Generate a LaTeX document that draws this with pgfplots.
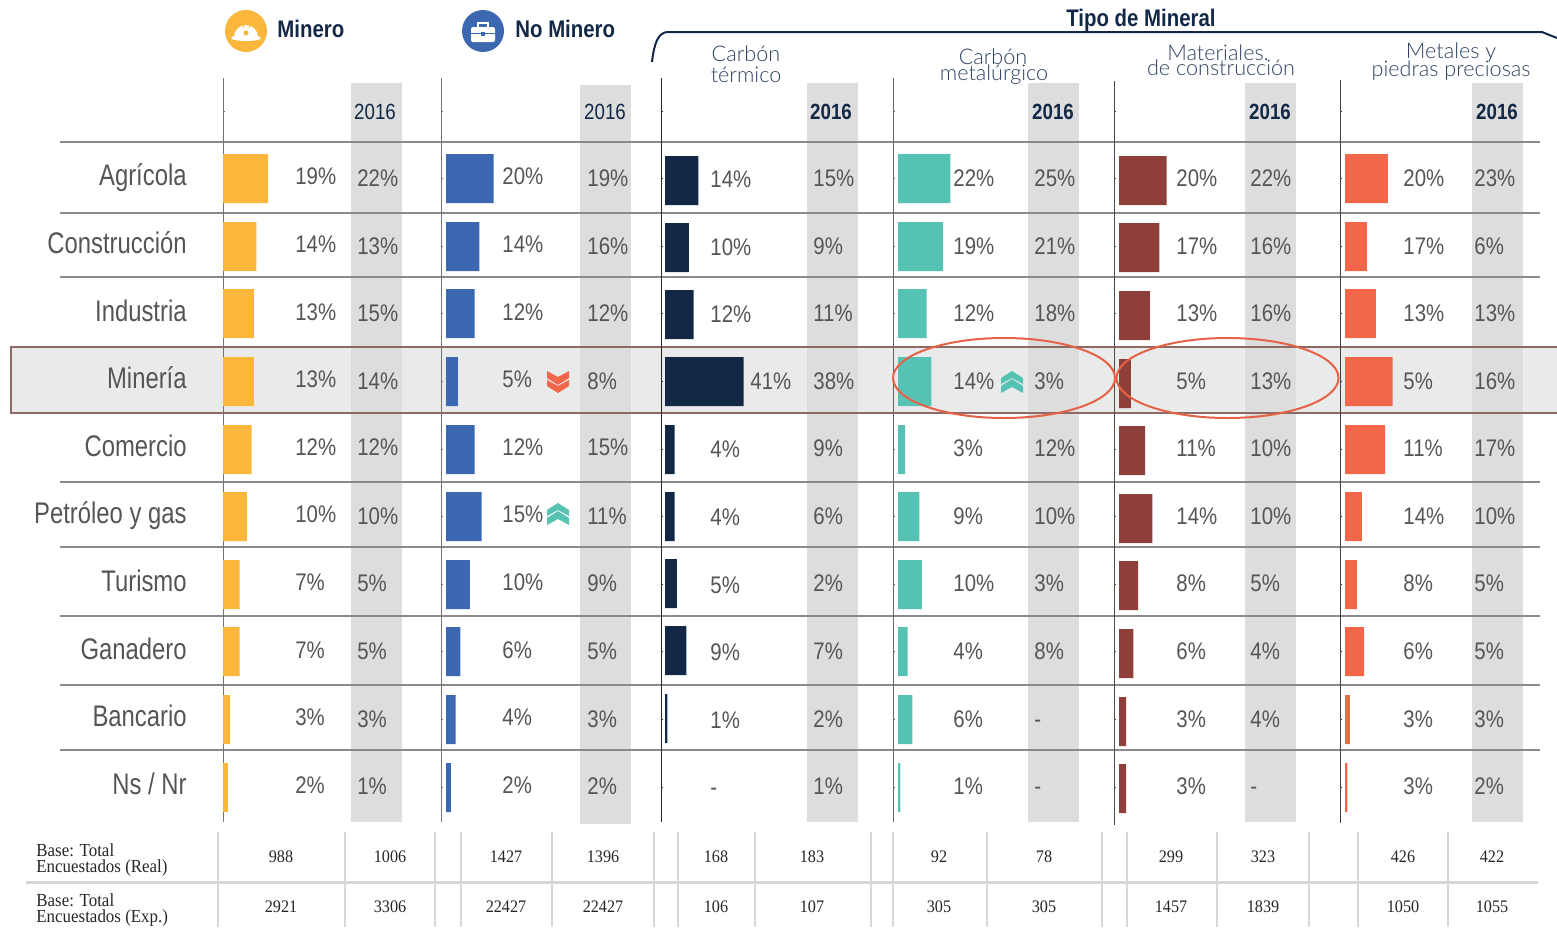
\documentclass[border=0pt]{standalone}
\usepackage{pgfplots}
\pgfplotsset{compat=1.18}
\usepackage{fontspec}
\setmainfont{Liberation Sans}
\newfontfamily\numf[FakeStretch=0.85]{Liberation Sans}
\newfontfamily\catf[FakeStretch=0.80]{Liberation Sans}
\newfontfamily\headf[FakeStretch=0.85]{Liberation Sans}
\newfontfamily\subf{Lato Light}
\newfontfamily\serf[FakeStretch=0.92]{Liberation Serif}
\definecolor{cY}{HTML}{FBB73C}
\definecolor{cB}{HTML}{3B68B1}
\definecolor{cN}{HTML}{122846}
\definecolor{cT}{HTML}{56C2B4}
\definecolor{cR}{HTML}{8E3F39}
\definecolor{cO}{HTML}{F2664A}
\definecolor{cG}{HTML}{DCDDDC}
\definecolor{cH}{HTML}{E9EBEA}
\definecolor{cTx}{HTML}{545557}
\definecolor{cL}{HTML}{8A8A8A}
\definecolor{cSub}{HTML}{2D4260}
\definecolor{cTb}{HTML}{D6D7D8}
\definecolor{cBd}{HTML}{8F6A65}
\pgfplotsset{panel/.style={hide axis,scale only axis,xbar,anchor=north west,
  width=119pt,height=463.5pt,xmin=0,xmax=100,ymin=0,ymax=927,y dir=reverse,
  bar width=24.5pt,/pgf/bar shift=0pt,enlargelimits=false,clip=false}}
\newcommand\vals[2]{\foreach \v/\y in {#2}{\node[anchor=base west,inner sep=0pt,text=cTx,font=\numf\fontsize{12}{12}\selectfont] at (#1,\y+8.5) {\v};}}
\newcommand\chev[4]{% x, y, dir(+1 down,-1 up), colour
  \fill[#4] (#1-11,#2-10*#3) -- (#1,#2-4*#3) -- (#1+11,#2-10*#3) -- (#1+11,#2-3*#3) -- (#1,#2+4*#3) -- (#1-11,#2-3*#3) -- cycle;
  \fill[#4] (#1-11,#2-1*#3) -- (#1,#2+5*#3) -- (#1+11,#2-1*#3) -- (#1+11,#2+5*#3) -- (#1,#2+12*#3) -- (#1-11,#2+5*#3) -- cycle;}
\begin{document}
\begin{tikzpicture}[x=0.5pt,y=-0.5pt]
\path[use as bounding box] (0,0) rectangle (1557,927);
\clip (0,0) rectangle (1557,927);
% highlight band
\fill[cH] (11,347) rectangle (1570,413);
% grey columns
\foreach \a/\t/\b in {351/83/822,580/85/824,807/83/822,1028/83/822,1245/83/822,1472/83/822}
  \fill[cG] (\a,\t) rectangle (\a+51,\b);
% horizontal rules
\foreach \y in {142,213,277,482,547,616,685,750}
  \draw[cL,line width=0.7pt] (60,\y) -- (1540,\y);
% highlight border
\draw[cBd,line width=1.3pt] (11,347) rectangle (1570,413);
% vertical axes and small ticks
\foreach \x/\t/\b/\c in {223/78/822/55,441/78/822/55,661/78/822/85,893/78/822/60,1114/81/825/70,1340/80/823/75}{
  \draw[black!\c,line width=0.45pt] (\x,\t) -- (\x,\b);
  \draw[black!\c,line width=0.4pt] (\x,111) -- (\x+2,111);
  \foreach \y in {178,246,313,381,449,516,584,651,719,787}
    \draw[black!\c,line width=0.4pt] (\x,\y) -- (\x+2,\y);
}
% bars: lengths
\begin{axis}[panel,at={(111.5pt,0pt)}]
\addplot[fill=cY,draw=none] coordinates {(19,178.5)(14,246.5)(13,313.5)(13,381.5)(12,449.5)(10,516.5)(7,584.5)(7,651.5)(3,719.5)(2,787.5)};
\end{axis}
\begin{axis}[panel,at={(223pt,0pt)}]
\addplot[fill=cB,draw=none] coordinates {(20,178.5)(14,246.5)(12,313.5)(5,381.5)(12,449.5)(15,516.5)(10,584.5)(6,651.5)(4,719.5)(2,787.5)};
\end{axis}
\begin{axis}[panel,at={(332.5pt,0pt)}]
\addplot[fill=cN,draw=none] coordinates {(14,180.5)(10,247.5)(12,314.5)(33,381.5)(4,449.5)(4,516.5)(5,583.5)(9,650.5)(1,718.5)};
\end{axis}
\begin{axis}[panel,at={(449pt,0pt)}]
\addplot[fill=cT,draw=none] coordinates {(22,178.5)(19,246.5)(12,313.5)(14,381.5)(3,449.5)(9,516.5)(10,584.5)(4,651.5)(6,719.5)(1,787.5)};
\end{axis}
\begin{axis}[panel,at={(559.5pt,0pt)}]
\addplot[fill=cR,draw=none] coordinates {(20,180.5)(17,247.5)(13,315.5)(5,383.5)(11,450.5)(14,518.5)(8,585.5)(6,653.5)(3,721.5)(3,788.5)};
\end{axis}
\begin{axis}[panel,at={(672.5pt,0pt)}]
\addplot[fill=cO,draw=none] coordinates {(18,178.5)(9.2,246.5)(13,313.5)(20,381.5)(16.8,449.5)(7.1,516.5)(5,584.5)(8,651.5)(2,719.5)(1,787.5)};
\end{axis}
% value labels
\vals{295}{19\%/176,14\%/244,13\%/312,13\%/379,12\%/447,10\%/514,7\%/582,7\%/650,3\%/717,2\%/785}
\vals{357}{22\%/178,13\%/246,15\%/313,14\%/381,12\%/447,10\%/516,5\%/583,5\%/651,3\%/719,1\%/786}
\vals{502}{20\%/176,14\%/244,12\%/312,5\%/379,12\%/447,15\%/514,10\%/582,6\%/650,4\%/717,2\%/785}
\vals{587}{19\%/178,16\%/246,12\%/313,8\%/381,15\%/447,11\%/516,9\%/583,5\%/651,3\%/719,2\%/786}
\vals{710}{14\%/179,10\%/247,12\%/314,4\%/449,4\%/517,5\%/585,9\%/652,1\%/720,-/787}
\vals{750}{41\%/381}
\vals{813}{15\%/178,9\%/246,11\%/313,38\%/381,9\%/448,6\%/516,2\%/583,7\%/651,2\%/719,1\%/786}
\vals{953}{22\%/178,19\%/246,12\%/313,14\%/381,3\%/448,9\%/516,10\%/583,4\%/651,6\%/719,1\%/786}
\vals{1034}{25\%/178,21\%/246,18\%/313,3\%/381,12\%/448,10\%/516,3\%/583,8\%/651,-/719,-/786}
\vals{1176}{20\%/178,17\%/246,13\%/313,5\%/381,11\%/448,14\%/516,8\%/583,6\%/651,3\%/719,3\%/786}
\vals{1250}{22\%/178,16\%/246,16\%/313,13\%/381,10\%/448,10\%/516,5\%/583,4\%/651,4\%/719,-/786}
\vals{1403}{20\%/178,17\%/246,13\%/313,5\%/381,11\%/448,14\%/516,8\%/583,6\%/651,3\%/719,3\%/786}
\vals{1474}{23\%/178,6\%/246,13\%/313,16\%/381,17\%/448,10\%/516,5\%/583,5\%/651,3\%/719,2\%/786}
% category labels
\foreach \c/\y in {Agrícola/176,Construcción/244,Industria/312,Minería/379,Comercio/447,Petróleo y gas/514,Turismo/582,Ganadero/650,Bancario/717,{Ns / Nr}/785}
  \node[anchor=base east,inner sep=0pt,text=cTx,font=\catf\fontsize{14.9}{14.9}\selectfont] at (187,\y+9.5) {\c};
% 2016 heads
\foreach \x in {375,605}
  \node[inner sep=0pt,text=cN,font=\headf\fontsize{11}{11}\selectfont] at (\x,112) {2016};
\foreach \x in {831,1053,1270,1497}
  \node[inner sep=0pt,text=cN,font=\headf\bfseries\fontsize{11}{11}\selectfont] at (\x,112) {2016};
% main headers
\fill[cY] (246,31) circle (21);
\fill[white] (234,37) arc[start angle=180,end angle=360,radius=12] -- cycle;
\fill[white] (246,38) ellipse (15 and 3);
\fill[cY] (246,33) circle (2.5);
\draw[cY,line width=0.4pt] (243,21) -- (243,28) (249,21) -- (249,28);
\fill[cB] (483,31) circle (21);
\draw[white,line width=0.7pt] (478,27) -- (478,23) -- (488,23) -- (488,27);
\fill[white,rounded corners=1pt] (471,27) rectangle (495,42);
\draw[cB,line width=0.5pt] (471,33) -- (495,33);
\fill[cB] (481,32) rectangle (485,36);
\node[anchor=base west,inner sep=0pt,text=cN,font=\headf\bfseries\fontsize{12}{12}\selectfont] at (277,37) {Minero};
\node[anchor=base west,inner sep=0pt,text=cN,font=\headf\bfseries\fontsize{12}{12}\selectfont] at (515,37) {No Minero};
\node[anchor=base,inner sep=0pt,text=cN,font=\headf\bfseries\fontsize{12}{12}\selectfont] at (1141,26) {Tipo de Mineral};
\draw[cN,line width=1pt] (652,62) .. controls (654,44) and (658,32) .. (668,32) -- (1542,32) -- (1557,38);
% sub headers
\foreach \x/\y/\t in {746/54/Carbón,746/75/térmico,993/57/Carbón,994/75/metalúrgico,1218/53/Materiales.,1221/68/de construcción,1451/53/Metales y,1451/71/piedras preciosas}
  \node[inner sep=0pt,text=cSub,font=\subf\fontsize{10.8}{10.8}\selectfont] at (\x,\y) {\t};
% trend marks and ellipses
\chev{558}{381}{1}{cO}
\chev{558}{515}{-1}{cT}
\chev{1012}{383}{-1}{cT}
\draw[cO!95!black,line width=1pt] (1004,378) ellipse (111 and 40);
\draw[cO!95!black,line width=1pt] (1227.5,378) ellipse (111 and 40);
% bottom table
\foreach \x in {218,345,435,461,552,654,678,755,871,893,987,1102,1127,1217,1309,1358,1448}
  \draw[cTb,line width=1.2pt] (\x,832) -- (\x,927);
\draw[cTb,line width=1.5pt] (26,882) -- (1538,882);
\foreach \x/\a/\b in {281/988/2921,390/1006/3306,506/1427/22427,603/1396/22427,716/168/106,812/183/107,939/92/305,1044/78/305,1171/299/1457,1263/323/1839,1403/426/1050,1492/422/1055}{
  \node[inner sep=0pt,text=black!85,font=\serf\fontsize{8.8}{8.8}\selectfont] at (\x,857) {\a};
  \node[inner sep=0pt,text=black!85,font=\serf\fontsize{8.8}{8.8}\selectfont] at (\x,907) {\b};
}
\foreach \y/\t in {850/Base: Total,868/Encuestados (Real),900/Base: Total,918/Encuestados (Exp.)}
  \node[anchor=west,inner sep=0pt,text=black!85,font=\serf\fontsize{9.2}{9.2}\selectfont] at (36,\y) {\t};
\end{tikzpicture}
\end{document}
